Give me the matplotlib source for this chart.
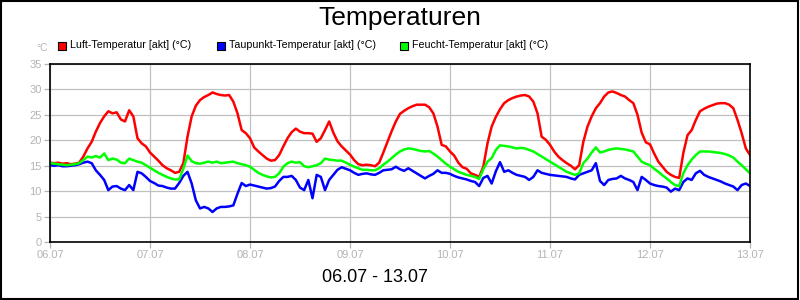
import matplotlib as mpl
mpl.use("Agg")
import matplotlib.pyplot as plt
from matplotlib.patches import Rectangle

mpl.rcParams["font.family"] = ["Liberation Sans", "DejaVu Sans"]

# hourly readings, 06.07 00:00 .. 13.07 00:00
luft = [
    15.6, 15.5, 15.6, 15.4, 15.5, 15.3, 15.4, 15.6, 16.8, 18.4, 19.7, 21.7,
    23.4, 24.7, 25.7, 25.3, 25.5, 24.1, 23.7, 25.9, 24.7, 20.4, 19.4, 18.8,
    17.6, 16.8, 16.0, 15.1, 14.5, 14.1, 13.6, 13.8, 15.5, 20.7, 24.7, 26.8,
    27.9, 28.5, 28.9, 29.4, 29.1, 28.9, 28.8, 28.9, 27.6, 25.3, 22.0, 21.4,
    20.4, 18.6, 17.8, 17.1, 16.4, 16.0, 16.1, 17.1, 18.8, 20.4, 21.6, 22.3,
    21.7, 21.4, 21.4, 21.3, 19.7, 20.4, 22.0, 23.7, 21.5, 19.8, 18.8, 18.0,
    17.2, 16.1, 15.3, 15.1, 15.2, 15.1, 14.9, 15.6, 17.6, 19.7, 21.8, 23.7,
    25.2, 25.8, 26.3, 26.7, 27.0, 27.0, 27.0, 26.5, 25.3, 22.7, 19.1, 18.8,
    17.8, 17.0, 15.6, 14.7, 14.4, 13.5, 13.2, 12.8, 14.8, 19.4, 22.7, 24.6,
    26.1, 27.3, 27.9, 28.3, 28.6, 28.8, 28.9, 28.6, 27.6, 25.3, 20.7, 20.1,
    19.1, 17.8, 16.8, 16.1, 15.5, 15.0, 14.3, 15.1, 19.7, 22.7, 24.7, 26.3,
    27.3, 28.6, 29.4, 29.6, 29.3, 28.9, 28.6, 27.9, 27.3, 25.0, 21.5, 19.6,
    19.2, 17.4, 15.8, 14.8, 13.8, 13.2, 12.8, 12.6, 17.5, 21.0, 22.0, 24.0,
    25.7, 26.2, 26.6, 26.9, 27.2, 27.3, 27.3, 27.0, 26.3, 24.0, 21.4, 18.4,
    17.1,
]
taupunkt = [
    15.1, 15.0, 15.1, 14.9, 14.9, 15.0, 15.1, 15.3, 15.6, 15.8, 15.5, 14.1,
    13.2, 12.2, 10.2, 10.9, 11.0, 10.5, 10.2, 11.2, 10.2, 13.8, 13.5, 12.8,
    12.0, 11.6, 11.1, 11.0, 10.7, 10.5, 10.5, 11.6, 13.0, 13.8, 11.5, 8.2,
    6.6, 6.9, 6.6, 5.9, 6.6, 6.9, 6.9, 7.0, 7.2, 9.5, 11.6, 11.0,
    11.3, 11.1, 10.9, 10.7, 10.5, 10.6, 10.9, 12.0, 12.8, 12.8, 13.0, 12.2,
    10.7, 10.2, 12.2, 8.6, 13.2, 12.8, 10.2, 12.2, 13.2, 14.2, 14.7, 14.4,
    14.1, 13.6, 13.2, 13.4, 13.5, 13.3, 13.2, 13.6, 14.1, 14.2, 14.3, 14.8,
    14.3, 14.0, 14.5, 14.0, 13.5, 13.0, 12.5, 13.0, 13.4, 14.1, 13.6, 13.6,
    13.4, 13.0, 12.7, 12.5, 12.3, 12.0, 11.8, 11.0, 12.6, 13.0, 11.5, 13.9,
    15.7, 13.8, 14.1, 13.6, 13.2, 13.0, 12.8, 12.2, 12.8, 14.1, 13.6, 13.4,
    13.2, 13.1, 13.0, 12.9, 12.8, 12.5, 12.3, 13.2, 13.5, 13.8, 14.1, 15.5,
    12.0, 11.2, 12.2, 12.4, 12.5, 13.0, 12.5, 12.2, 11.8, 10.2, 12.8, 12.2,
    11.5, 11.2, 11.0, 10.9, 10.7, 9.9, 10.5, 10.2, 11.8, 12.5, 12.2, 13.5,
    14.0, 13.2, 12.8, 12.5, 12.2, 11.9, 11.5, 11.2, 10.9, 10.2, 11.2, 11.5,
    11.0,
]
feucht = [
    15.5, 15.4, 15.3, 15.2, 15.1, 15.2, 15.3, 15.5, 16.1, 16.8, 16.6, 16.9,
    16.6, 17.4, 16.1, 16.4, 16.2, 15.6, 15.5, 16.4, 16.1, 15.8, 15.6, 15.1,
    14.6, 14.1, 13.6, 13.2, 12.8, 12.5, 12.3, 12.3, 14.4, 17.0, 15.9, 15.5,
    15.4, 15.6, 15.8, 15.6, 15.8, 15.5, 15.6, 15.7, 15.8, 15.5, 15.3, 15.1,
    14.8, 14.2, 13.6, 13.2, 12.9, 12.7, 12.8, 13.5, 14.8, 15.5, 15.8, 15.6,
    15.7, 14.9, 14.7, 14.9, 15.1, 15.5, 16.4, 16.2, 16.1, 16.0, 16.0, 15.6,
    15.2, 14.8, 14.5, 14.2, 14.2, 14.1, 14.1, 14.5, 15.2, 15.8, 16.5, 17.2,
    17.8, 18.2, 18.4, 18.3, 18.1, 17.9, 17.8, 17.9, 17.4, 16.8, 16.1, 15.4,
    14.8, 14.3, 13.8, 13.5, 13.2, 13.0, 12.8, 12.4, 14.3, 15.8, 16.5, 18.1,
    19.0, 18.9, 18.8, 18.6, 18.4, 18.5, 18.4, 18.1, 17.8, 17.3, 16.8, 16.3,
    15.8, 15.3, 14.8, 14.3, 13.8, 13.5, 13.2, 13.5, 15.5, 16.4, 17.6, 18.6,
    17.6, 17.8, 18.1, 18.3, 18.4, 18.3, 18.2, 18.0, 17.8, 16.8, 15.8, 15.4,
    15.1, 14.4, 13.8, 13.1, 12.5, 11.8, 11.2, 11.0, 13.5, 15.1, 16.2, 17.1,
    17.8, 17.8, 17.8, 17.7, 17.6, 17.5, 17.3, 17.0, 16.6, 15.8, 15.1, 14.3,
    13.5,
]
day_labels = ["06.07", "07.07", "08.07", "09.07", "10.07", "11.07", "12.07", "13.07"]
series = [
    ("Luft-Temperatur [akt] (°C)", luft, "#ff0000"),
    ("Taupunkt-Temperatur [akt] (°C)", taupunkt, "#0000ff"),
    ("Feucht-Temperatur [akt] (°C)", feucht, "#00ff00"),
]

grey = "#b4b4b4"

fig = plt.figure(figsize=(8, 3), dpi=100)
ax = fig.add_axes([50 / 800, 58 / 300, 700 / 800, 178 / 300])

hours = list(range(len(luft)))
for label, values, color in series:
    ax.plot(hours, values, color=color, lw=1.8, label=label)

ax.set_xlim(0, 24 * (len(day_labels) - 1))
ax.set_ylim(0, 35)
ax.set_xticks([24 * i for i in range(len(day_labels))])
ax.set_xticklabels(day_labels)
ax.set_yticks(range(0, 36, 5))
ax.grid(True, color="#c0c0c0", lw=0.9)
ax.set_axisbelow(True)
ax.tick_params(colors=grey, labelsize=8, length=4, width=0.9, pad=2)
for s in ax.spines.values():
    s.set_color("black")
    s.set_linewidth(1.2)

fig.text(0.5, 1 - 18 / 300, "Temperaturen", ha="center", va="center", fontsize=19)
fig.text(375 / 800, 1 - 277 / 300, "06.07 - 13.07", ha="center", va="center", fontsize=13)
fig.text(42 / 800, 1 - 48 / 300, "°C", ha="center", va="center", fontsize=7.5, color=grey)

# legend row
for (label, values, color), x0 in zip(series, [58, 217, 400]):
    fig.patches.append(Rectangle((x0 / 800, 1 - 50 / 300), 8 / 800, 8 / 300,
                                 transform=fig.transFigure, facecolor=color,
                                 edgecolor="black", lw=0.8))
    fig.text((x0 + 12) / 800, 1 - 45.5 / 300, label, ha="left", va="center", fontsize=7.7)

fig.patches.append(Rectangle((0.001, 0.002), 0.997, 0.995, transform=fig.transFigure,
                             fill=False, edgecolor="black", lw=1.5))

fig.savefig("out.png", dpi=100)
